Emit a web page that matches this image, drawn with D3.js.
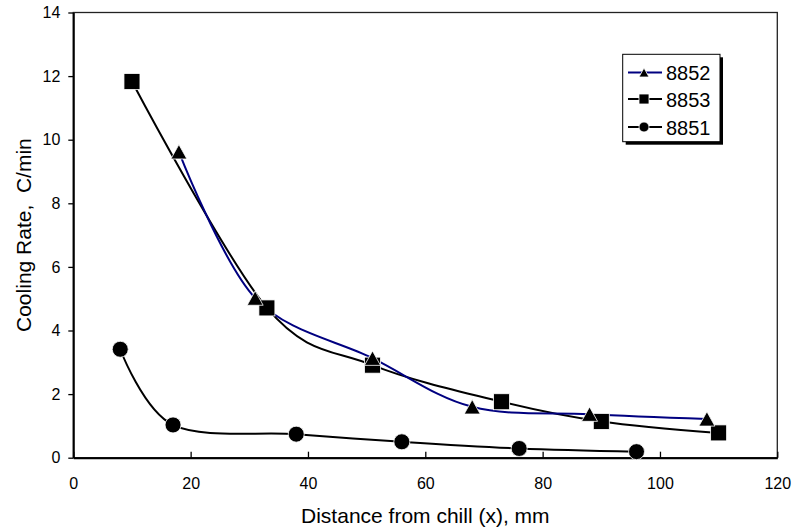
<!DOCTYPE html>
<html>
<head>
<meta charset="utf-8">
<script src="https://cdn.jsdelivr.net/npm/d3@7"></script>
<style>
  html, body { margin: 0; padding: 0; background: #fff; }
  svg { display: block; font-family: "Liberation Sans", Arial, sans-serif; }
</style>
</head>
<body>
<svg id="chart" width="795" height="532"></svg>
<script>
// Cooling rate vs distance from chill, three castings
const xTicks = [0, 20, 40, 60, 80, 100, 120];
const yTicks = [0, 2, 4, 6, 8, 10, 12, 14];

const x8852 = [18, 31, 51, 68, 88, 108];
const y8852 = [9.62, 5.02, 3.13, 1.6, 1.37, 1.22];

const x8853 = [10, 33, 51, 73, 90, 110];
const y8853 = [11.83, 4.71, 2.91, 1.76, 1.14, 0.78];

const x8851 = [8, 17, 38, 56, 76, 96];
const y8851 = [3.41, 1.03, 0.74, 0.5, 0.29, 0.19];

const seriesNames = ["8852", "8853", "8851"];

const series = [
  { name: seriesNames[0], xs: x8852, ys: y8852, color: "#000080", marker: "triangle" },
  { name: seriesNames[1], xs: x8853, ys: y8853, color: "#000000", marker: "square" },
  { name: seriesNames[2], xs: x8851, ys: y8851, color: "#000000", marker: "circle" }
];

const svg = d3.select("#chart");
const plotL = 73.3, plotR = 777.3, plotT = 12.5, plotB = 457.7;

const x = d3.scaleLinear().domain([0, 120]).range([plotL, plotR]);
const y = d3.scaleLinear().domain([0, 14]).range([plotB, plotT]);

// frame (top and right)
svg.append("rect")
  .attr("x", plotL).attr("y", plotT)
  .attr("width", plotR - plotL).attr("height", plotB - plotT)
  .attr("fill", "none").attr("stroke", "#222").attr("stroke-width", 1.3);

// x axis: inward ticks
const xAxis = d3.axisBottom(x).tickValues(xTicks).tickSizeInner(-6).tickSizeOuter(0).tickPadding(20);
const gx = svg.append("g").attr("transform", `translate(0,${plotB})`).call(xAxis);
gx.select(".domain").attr("stroke", "#000").attr("stroke-width", 2);
gx.selectAll(".tick line").attr("stroke", "#000").attr("stroke-width", 1.3);
gx.selectAll(".tick text").attr("font-size", 16).attr("fill", "#000")
  .attr("font-family", "Liberation Sans, Arial, sans-serif");

// y axis: outward ticks
const yAxis = d3.axisLeft(y).tickValues(yTicks).tickSizeInner(5).tickSizeOuter(0).tickPadding(8);
const gy = svg.append("g").attr("transform", `translate(${plotL},0)`).call(yAxis);
gy.select(".domain").attr("stroke", "#000").attr("stroke-width", 2);
gy.selectAll(".tick line").attr("stroke", "#000").attr("stroke-width", 1.3);
gy.selectAll(".tick text").attr("font-size", 16).attr("fill", "#000")
  .attr("font-family", "Liberation Sans, Arial, sans-serif");

// axis titles
svg.append("text")
  .attr("x", (plotL + plotR) / 2).attr("y", 523)
  .attr("text-anchor", "middle").attr("font-size", 21)
  .text("Distance from chill (x), mm");

svg.append("text")
  .attr("transform", `translate(31,${(plotT + plotB) / 2}) rotate(-90)`)
  .attr("text-anchor", "middle").attr("font-size", 21)
  .attr("xml:space", "preserve")
  .text("Cooling Rate,  C/min");

// smooth lines
const line = d3.line().x(d => x(d[0])).y(d => y(d[1])).curve(d3.curveCardinal.tension(0));

function drawMarker(g, type, cx, cy, s) {
  if (type === "square") {
    g.append("rect").attr("x", cx - s / 2).attr("y", cy - s / 2)
      .attr("width", s).attr("height", s)
      .attr("fill", "#000").attr("stroke", "#fff").attr("stroke-width", 0.8);
  } else if (type === "circle") {
    g.append("circle").attr("cx", cx).attr("cy", cy).attr("r", s / 2)
      .attr("fill", "#000").attr("stroke", "#fff").attr("stroke-width", 0.8);
  } else {
    const h = s * 0.9;
    g.append("path")
      .attr("d", `M${cx},${cy - h / 2}L${cx + s / 2},${cy + h / 2}L${cx - s / 2},${cy + h / 2}Z`)
      .attr("fill", "#000").attr("stroke", "#fff").attr("stroke-width", 0.8);
  }
}

// draw series back to front: 8851, 8853, 8852
[series[2], series[1], series[0]].forEach(s => {
  const pts = s.xs.map((v, i) => [v, s.ys[i]]);
  svg.append("path").datum(pts)
    .attr("d", line).attr("fill", "none")
    .attr("stroke", s.color).attr("stroke-width", 2);
});
[series[2], series[1], series[0]].forEach(s => {
  const g = svg.append("g");
  s.xs.forEach((v, i) => drawMarker(g, s.marker, x(v), y(s.ys[i]), 16));
});

// legend
const lg = svg.append("g");
const lx = 622.7, ly = 54.3, lw = 97.3, lh = 87.4;
lg.append("rect").attr("x", lx + 3).attr("y", ly + 3).attr("width", lw).attr("height", lh).attr("fill", "#000");
lg.append("rect").attr("x", lx).attr("y", ly).attr("width", lw).attr("height", lh)
  .attr("fill", "#fff").attr("stroke", "#000").attr("stroke-width", 1);
const rowY = [72.5, 99, 127];
series.forEach((s, i) => {
  const cy = rowY[i];
  lg.append("line").attr("x1", 628).attr("x2", 662).attr("y1", cy).attr("y2", cy)
    .attr("stroke", s.color).attr("stroke-width", 2);
  drawMarker(lg, s.marker, 644, cy, 10);
  lg.append("text").attr("x", 666).attr("y", cy + 7.5).attr("font-size", 20).text(s.name);
});
</script>
</body>
</html>
